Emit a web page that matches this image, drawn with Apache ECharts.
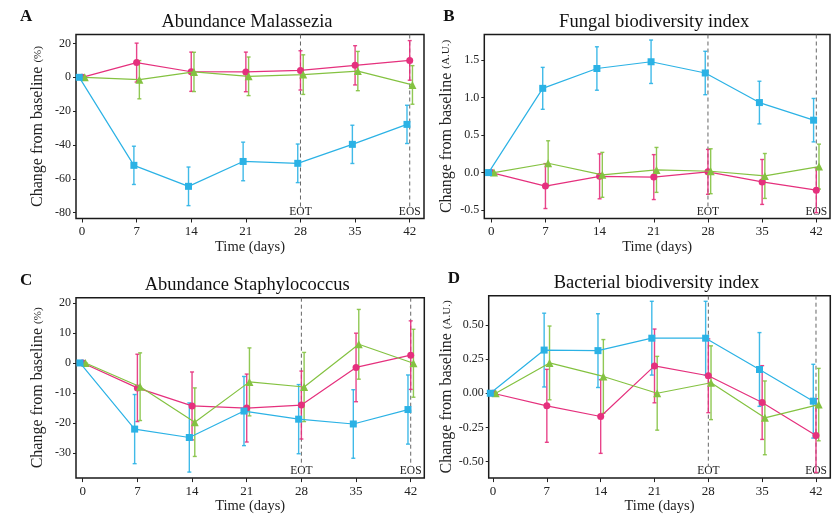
<!DOCTYPE html>
<html>
<head>
<meta charset="utf-8">
<script src="https://cdn.jsdelivr.net/npm/echarts@6/dist/echarts.min.js"></script>
<style>
  html, body { margin: 0; padding: 0; background: #fff; }
  #chart { width: 832px; height: 515px; }
</style>
</head>
<body>
<div id="chart"></div>
<script>
// time points and study events
const days = [0, 7, 14, 21, 28, 35, 42];
const events = [28, 42];
const eventLabels = ['EOT', 'EOS'];

// A - abundance Malassezia (%)
const malPink = [0, 8.7, 3.3, 3.2, 4.1, 7.1, 10.0];
const malPinkErr = [0, 11.5, 11.6, 11.7, 11.6, 11.6, 11.7];
const malGreen = [0, -1.4, 3.2, 0.6, 1.6, 3.7, -4.5];
const malGreenErr = [0, 11.3, 11.6, 11.4, 11.7, 11.6, 11.4];
const malBlue = [0, -52.0, -64.4, -49.7, -50.8, -39.6, -27.8];
const malBlueErr = [0, 11.3, 11.4, 11.4, 11.4, 11.3, 11.3];
const malTicks = [-80, -60, -40, -20, 0, 20];

// B - fungal biodiversity index (A.U.)
const funPink = [0, -0.18, -0.05, -0.06, 0.01, -0.125, -0.235];
const funPinkErr = [0, 0.30, 0.30, 0.30, 0.30, 0.30, 0.30];
const funGreen = [0, 0.125, -0.03, 0.036, 0.018, -0.045, 0.08];
const funGreenErr = [0, 0.30, 0.30, 0.30, 0.30, 0.30, 0.30];
const funBlue = [0, 1.125, 1.39, 1.48, 1.33, 0.935, 0.70];
const funBlueErr = [0, 0.28, 0.29, 0.29, 0.29, 0.285, 0.29];
const funTicks = [-0.5, 0, 0.5, 1.0, 1.5];

// C - abundance Staphylococcus (%)
const staPink = [0, -8.3, -14.3, -15.0, -14.0, -1.5, 2.6];
const staPinkErr = [0, 11.2, 11.3, 11.3, 11.3, 11.4, 11.4];
const staGreen = [0, -7.9, -19.7, -6.3, -8.0, 6.2, -0.1];
const staGreenErr = [0, 11.25, 11.4, 11.3, 11.5, 11.6, 11.3];
const staBlue = [0, -22.0, -24.8, -16.0, -18.7, -20.3, -15.5];
const staBlueErr = [0, 11.5, 11.5, 11.5, 11.5, 11.4, 11.5];
const staTicks = [-30, -20, -10, 0, 10, 20];

// D - bacterial biodiversity index (A.U.)
const bacPink = [0, -0.092, -0.17, 0.20, 0.128, -0.068, -0.31];
const bacPinkErr = [0, 0.267, 0.27, 0.27, 0.27, 0.27, 0.27];
const bacGreen = [0, 0.222, 0.123, 0.0, 0.077, -0.18, -0.083];
const bacGreenErr = [0, 0.27, 0.27, 0.27, 0.27, 0.27, 0.265];
const bacBlue = [0, 0.316, 0.312, 0.403, 0.403, 0.174, -0.058];
const bacBlueErr = [0, 0.27, 0.27, 0.27, 0.27, 0.27, 0.27];
const bacTicks = [-0.5, -0.25, 0, 0.25, 0.5];

const FONT = '"Liberation Serif", "DejaVu Serif", serif';
const PINK = '#e5307d';
const GREEN = '#84c241';
const BLUE = '#2bb2e5';

const panels = [
  {
    letter: 'A', title: 'Abundance Malassezia', unit: '(%)',
    grid: {left: 76, top: 34.5, width: 348, height: 184},
    xRange: [-0.77, 43.83], yRange: [-83.4, 25.3], yTicks: malTicks, dec: 0,
    lines: [[malPink, malPinkErr], [malGreen, malGreenErr], [malBlue, malBlueErr]]
  },
  {
    letter: 'B', title: 'Fungal biodiversity index', unit: '(A.U.)',
    grid: {left: 484.3, top: 34.5, width: 345.7, height: 184},
    xRange: [-0.9, 43.77], yRange: [-0.613, 1.844], yTicks: funTicks, dec: 1,
    lines: [[funPink, funPinkErr], [funGreen, funGreenErr], [funBlue, funBlueErr]]
  },
  {
    letter: 'C', title: 'Abundance Staphylococcus', unit: '(%)',
    grid: {left: 76, top: 297.7, width: 348.3, height: 184},
    xRange: [-0.86, 43.74], yRange: [-38.3, 21.7], yTicks: staTicks, dec: 0,
    lines: [[staPink, staPinkErr], [staGreen, staGreenErr], [staBlue, staBlueErr]]
  },
  {
    letter: 'D', title: 'Bacterial biodiversity index', unit: '(A.U.)',
    grid: {left: 488.7, top: 295.7, width: 341.6, height: 184.3},
    xRange: [-0.56, 43.86], yRange: [-0.621, 0.714], yTicks: bacTicks, dec: 2,
    lines: [[bacPink, bacPinkErr], [bacGreen, bacGreenErr], [bacBlue, bacBlueErr]]
  }
];

const groupStyle = [
  {color: PINK, symbol: 'circle', size: 7, dodge: 0},
  {color: GREEN, symbol: 'triangle', size: 8, dodge: 0.35},
  {color: BLUE, symbol: 'rect', size: 7, dodge: -0.35}
];

function errorBar(params, api) {
  const x = api.value(0);
  const p1 = api.coord([x, api.value(1)]);
  const p2 = api.coord([x, api.value(2)]);
  const w = 2;
  const style = {stroke: api.visual('color'), lineWidth: 1.4, opacity: 0.9};
  return {
    type: 'group',
    children: [
      {type: 'line', shape: {x1: p1[0], y1: p1[1], x2: p2[0], y2: p2[1]}, style: style},
      {type: 'line', shape: {x1: p1[0] - w, y1: p1[1], x2: p1[0] + w, y2: p1[1]}, style: style},
      {type: 'line', shape: {x1: p2[0] - w, y1: p2[1], x2: p2[0] + w, y2: p2[1]}, style: style}
    ]
  };
}

function eventLine(params, api) {
  const cs = params.coordSys;
  const x = api.coord([api.value(0), 0])[0];
  const bottom = cs.y + cs.height;
  return {
    type: 'group',
    children: [
      {type: 'line', shape: {x1: x, y1: cs.y, x2: x, y2: bottom - 12},
        style: {stroke: '#666', lineWidth: 1, lineDash: [4, 3]}},
      {type: 'text', x: x, y: bottom - 1,
        style: {text: eventLabels[params.dataIndex], fill: '#222',
          font: '11.5px ' + FONT, align: 'center', verticalAlign: 'bottom',
          textAlign: 'center', textVerticalAlign: 'bottom'}}
    ]
  };
}

const grids = [], xAxes = [], yAxes = [], series = [], graphics = [];

panels.forEach(function (p, i) {
  grids.push(Object.assign({show: true, borderColor: '#1a1a1a', borderWidth: 1.5,
    backgroundColor: 'transparent'}, p.grid));

  xAxes.push({
    type: 'value', gridIndex: i, min: p.xRange[0], max: p.xRange[1],
    name: 'Time (days)', nameLocation: 'middle', nameGap: 18,
    nameTextStyle: {fontFamily: FONT, fontSize: 14.5, color: '#222'},
    axisLine: {show: false, onZero: false},
    axisTick: {show: true, length: 4, customValues: days, lineStyle: {color: '#222'}},
    axisLabel: {customValues: days, margin: 7, fontFamily: FONT, fontSize: 13, color: '#222'},
    splitLine: {show: false}
  });

  yAxes.push({
    type: 'value', gridIndex: i, min: p.yRange[0], max: p.yRange[1],
    name: '{a|Change from baseline }{b|' + p.unit + '}',
    nameLocation: 'middle', nameGap: 30,
    nameTextStyle: {color: '#222', rich: {
      a: {fontFamily: FONT, fontSize: 16, color: '#222'},
      b: {fontFamily: FONT, fontSize: 11, color: '#222'}
    }},
    axisLine: {show: false, onZero: false},
    axisTick: {show: true, length: 3, customValues: p.yTicks, lineStyle: {color: '#222'}},
    axisLabel: {customValues: p.yTicks, margin: 5, fontFamily: FONT, fontSize: 12, color: '#222',
      formatter: function (v) { return v.toFixed(p.dec); }},
    splitLine: {show: false}
  });

  series.push({
    type: 'custom', xAxisIndex: i, yAxisIndex: i, silent: true, z: 1,
    renderItem: eventLine,
    data: events.map(function (d) { return [d]; })
  });

  p.lines.forEach(function (pair, g) {
    const st = groupStyle[g];
    const vals = pair[0], errs = pair[1];
    series.push({
      type: 'custom', xAxisIndex: i, yAxisIndex: i, silent: true, z: 2,
      itemStyle: {color: st.color},
      renderItem: errorBar,
      data: days.map(function (d, k) {
        return [d + st.dodge, vals[k] - errs[k], vals[k] + errs[k]];
      })
    });
    series.push({
      type: 'line', xAxisIndex: i, yAxisIndex: i, z: 3 + g,
      symbol: st.symbol, symbolSize: st.size, showAllSymbol: true,
      itemStyle: {color: st.color},
      lineStyle: {color: st.color, width: 1.2},
      animation: false,
      data: days.map(function (d, k) { return [d + st.dodge, vals[k]]; })
    });
  });

  const g = p.grid;
  graphics.push({
    type: 'text', x: g.left + g.width / 2 - 3, y: g.top - 3,
    style: {text: p.title, font: '18.5px ' + FONT, fill: '#111',
      textAlign: 'center', textVerticalAlign: 'bottom'}
  });
  graphics.push({
    type: 'text', x: i % 2 === 0 ? 20 : g.left - 41, y: g.top - 9,
    style: {text: p.letter, font: 'bold 17px ' + FONT, fill: '#111',
      textAlign: 'left', textVerticalAlign: 'bottom'}
  });
});

const chart = echarts.init(document.getElementById('chart'), null, {renderer: 'canvas'});
chart.setOption({
  animation: false,
  backgroundColor: '#fff',
  grid: grids,
  xAxis: xAxes,
  yAxis: yAxes,
  series: series,
  graphic: graphics
});
</script>
</body>
</html>
